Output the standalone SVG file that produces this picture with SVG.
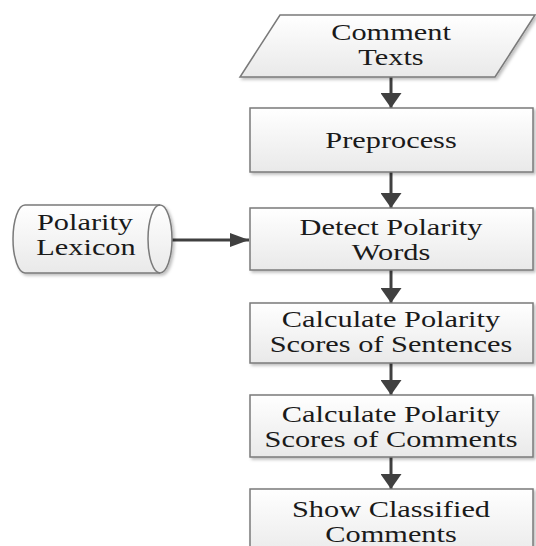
<svg xmlns="http://www.w3.org/2000/svg" width="536" height="546" viewBox="0 0 536 546">
<defs>
<linearGradient id="g" x1="0" y1="0" x2="0" y2="1">
<stop offset="0" stop-color="#ffffff"/>
<stop offset="1" stop-color="#e9e9e9"/>
</linearGradient>
<filter id="sh" x="-10%" y="-10%" width="130%" height="130%">
<feDropShadow dx="2" dy="2" stdDeviation="1.5" flood-color="#000" flood-opacity="0.25"/>
</filter>
<marker id="arrV" markerUnits="userSpaceOnUse" viewBox="0 0 15 21" refX="15" refY="10.5" markerWidth="15" markerHeight="21" orient="auto">
<path d="M0,0 L15,10.5 L0,21 Z" fill="#404040"/>
</marker>
<marker id="arrH" markerUnits="userSpaceOnUse" viewBox="0 0 19 14" refX="19" refY="7" markerWidth="19" markerHeight="14" orient="auto">
<path d="M0,0 L19,7 L0,14 Z" fill="#404040"/>
</marker>
<style>
.shape{fill:url(#g);stroke:#7a7a7a;stroke-width:1.5;filter:url(#sh)}
.inner{fill:none;stroke:#7a7a7a;stroke-width:1.5}
.t{font-family:"Liberation Serif","Times New Roman",serif;font-size:23px;fill:#1a1a1a;text-anchor:middle}
.c{stroke:#404040;stroke-width:3;fill:none}
</style>
</defs>
<rect width="536" height="546" fill="#ffffff"/>

<g id="connectors">
<line class="c" x1="391" y1="77" x2="391" y2="108" marker-end="url(#arrV)"/>
<line class="c" x1="391" y1="172" x2="391" y2="208" marker-end="url(#arrV)"/>
<line class="c" x1="391" y1="270" x2="391" y2="303" marker-end="url(#arrV)"/>
<line class="c" x1="391" y1="363" x2="391" y2="395" marker-end="url(#arrV)"/>
<line class="c" x1="391" y1="457" x2="391" y2="489" marker-end="url(#arrV)"/>
<line class="c" x1="172" y1="240" x2="249" y2="240" marker-end="url(#arrH)"/>
</g>

<g id="comment-texts">
<path class="shape" d="M280,15 L535,15 L495,77 L240,77 Z"/>
<text class="t" transform="translate(391,40) scale(1.32,1)">Comment</text>
<text class="t" transform="translate(391,65) scale(1.32,1)">Texts</text>
</g>

<g id="preprocess">
<rect class="shape" x="250" y="108" width="283" height="64"/>
<text class="t" transform="translate(391,148) scale(1.32,1)">Preprocess</text>
</g>

<g id="polarity-lexicon">
<path class="shape" d="M25,205 L160,205 A12,34 0 0 1 160,273 L25,273 A12,34 0 0 1 25,205 Z"/>
<path class="inner" d="M160,205 A12,34 0 0 0 160,273"/>
<text class="t" transform="translate(85,230) scale(1.32,1)">Polarity</text>
<text class="t" transform="translate(86,255) scale(1.32,1)">Lexicon</text>
</g>

<g id="detect-polarity-words">
<rect class="shape" x="250" y="208" width="283" height="62"/>
<text class="t" transform="translate(391,235) scale(1.32,1)">Detect Polarity</text>
<text class="t" transform="translate(391,260) scale(1.32,1)">Words</text>
</g>

<g id="scores-sentences">
<rect class="shape" x="250" y="303" width="283" height="60"/>
<text class="t" transform="translate(391,327) scale(1.32,1)">Calculate Polarity</text>
<text class="t" transform="translate(391,352) scale(1.32,1)">Scores of Sentences</text>
</g>

<g id="scores-comments">
<rect class="shape" x="250" y="395" width="283" height="62"/>
<text class="t" transform="translate(391,422) scale(1.32,1)">Calculate Polarity</text>
<text class="t" transform="translate(391,447) scale(1.32,1)">Scores of Comments</text>
</g>

<g id="show-classified">
<rect class="shape" x="250" y="489" width="283" height="70"/>
<text class="t" transform="translate(391,517) scale(1.32,1)">Show Classified</text>
<text class="t" transform="translate(391,542) scale(1.32,1)">Comments</text>
</g>
</svg>
